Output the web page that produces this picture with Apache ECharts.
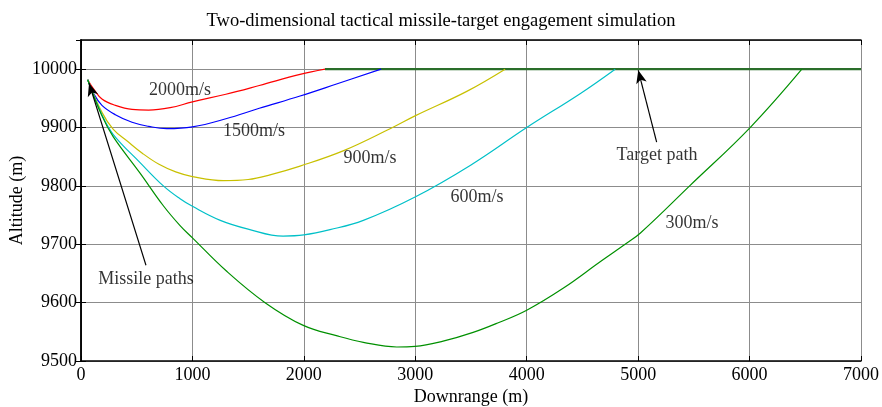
<!DOCTYPE html>
<html><head><meta charset="utf-8">
<script src="https://cdn.jsdelivr.net/npm/echarts@6/dist/echarts.min.js"></script>
<style>html,body{margin:0;padding:0;background:#fff}#c{width:882px;height:407px}</style>
</head><body><div id="c"></div>
<script>
const xTicks = [0,1000,2000,3000,4000,5000,6000,7000];
const yTicks = [9500,9600,9700,9800,9900,10000];

const redX  = [60,114,188,308,458,607,800,1000,1300,1600,1966,2190];
const redY  = [9982,9966,9949,9938,9931,9930,9934,9944,9957,9972,9991,10000];
const blueX = [60,114,188,308,458,607,770,1000,1300,1600,1966,2300,2693];
const blueY = [9982,9958,9938,9922,9909,9902,9898,9901,9915,9933,9954,9975,10000];
const yelX  = [60,188,290,420,550,700,850,1000,1277,1500,1696,1966,2352,2774,2998,3462,3806];
const yelY  = [9982,9926,9897,9876,9856,9837,9824,9816,9809,9811,9819,9834,9860,9898,9920,9962,10000];
const cyanX = [60,188,290,530,739,889,1000,1250,1500,1813,2000,2235,2534,2998,3500,4000,4479,4794];
const cyanY = [9982,9922,9888,9840,9800,9778,9765,9741,9726,9714,9716,9725,9741,9781,9836,9900,9958,10000];
const grnX  = [60,188,290,530,739,889,1000,1300,1652,1995,2300,2534,2834,2998,3250,3519,3750,4000,4330,4659,4883,5018,5467,6005,6469];
const grnY  = [9982,9920,9884,9822,9766,9732,9711,9655,9600,9561,9543,9532,9524,9525,9534,9549,9566,9587,9625,9670,9700,9719,9801,9900,10000];
const tgtX  = [2190,7000];
const tgtY  = [10000,10000];

const labelText = ['2000m/s','1500m/s','900m/s','600m/s','300m/s','Target path','Missile paths'];
const labelX    = [888,1553,2594,3554,5484,5169,583];
const labelY    = [9964,9894,9848,9781,9736,9852,9640];

const arrowFrom = [[583,9664],[5166,9875]];
const arrowTo   = [[72,9976],[5001,9998]];

const FONT = "'Liberation Serif','Times New Roman',serif";
const zip = (a,b)=>a.map((v,i)=>[v,b[i]]);
const mk = (name,xs,ys,color,w)=>({name,type:'line',data:zip(xs,ys),smooth:0.4,showSymbol:false,symbol:'none',
  lineStyle:{color,width:w},itemStyle:{color},z:3,animation:false});

const chart = echarts.init(document.getElementById('c'),null,{renderer:'canvas'});
const axisCommon = {
  axisLine:{show:true,lineStyle:{color:'#000',width:1.5}},
  axisTick:{show:true,inside:true,length:5,lineStyle:{color:'#000',width:1}},
};
const plain = v => String(v);
chart.setOption({
  animation:false,
  backgroundColor:'#fff',
  title:{text:'Two-dimensional tactical missile-target engagement simulation',left:'center',top:7,
    textStyle:{fontFamily:FONT,fontSize:18.5,fontWeight:'normal',color:'#000'}},
  grid:{left:81,right:21,top:40,bottom:46,containLabel:false,outerBoundsMode:'none'},
  xAxis:[
    Object.assign({type:'value',min:xTicks[0],max:xTicks[xTicks.length-1],interval:1000,position:'bottom',
      name:'Downrange (m)',nameLocation:'middle',nameGap:27,nameMoveOverlap:false,
      nameTextStyle:{fontFamily:FONT,fontSize:18,color:'#000'},
      axisLabel:{fontFamily:FONT,fontSize:18,color:'#000',margin:5,formatter:plain},
      splitLine:{show:true,lineStyle:{color:'#8c8c8c',width:1}}},axisCommon),
    Object.assign({type:'value',min:xTicks[0],max:xTicks[xTicks.length-1],interval:1000,position:'top',
      axisLabel:{show:false},splitLine:{show:false}},axisCommon)
  ],
  yAxis:[
    Object.assign({type:'value',min:yTicks[0],max:10050,interval:100,position:'left',
      name:'Altitude (m)',nameLocation:'middle',nameGap:55,nameMoveOverlap:false,
      nameTextStyle:{fontFamily:FONT,fontSize:18,color:'#000'},
      axisLabel:{fontFamily:FONT,fontSize:18,color:'#000',margin:4,showMaxLabel:false,formatter:plain},
      splitLine:{show:true,lineStyle:{color:'#8c8c8c',width:1}}},axisCommon),
    Object.assign({type:'value',min:yTicks[0],max:10050,interval:100,position:'right',
      axisLabel:{show:false},splitLine:{show:false}},axisCommon)
  ],
  series:[
    mk('tgt',tgtX,tgtY,'#2a6e2a',2.2),
    mk('2000',redX,redY,'#ff0000',1.2),
    mk('1500',blueX,blueY,'#0000ff',1.2),
    mk('900',yelX,yelY,'#c8c000',1.2),
    mk('600',cyanX,cyanY,'#00c0c8',1.2),
    mk('300',grnX,grnY,'#009000',1.2),
    {type:'scatter',data:labelX.map((x,i)=>({value:[x,labelY[i]],name:labelText[i]})),
      symbolSize:0,silent:true,z:5,
      label:{show:true,position:'inside',formatter:p=>p.name,fontFamily:FONT,fontSize:18,color:'#000',textBorderWidth:0},
      markLine:{silent:true,symbol:['none','arrow'],symbolSize:[8,13],
        lineStyle:{color:'#000',width:1.2,type:'solid'},label:{show:false},
        data:arrowFrom.map((f,i)=>[{coord:f},{coord:arrowTo[i]}])}}
  ]
});
</script></body></html>
